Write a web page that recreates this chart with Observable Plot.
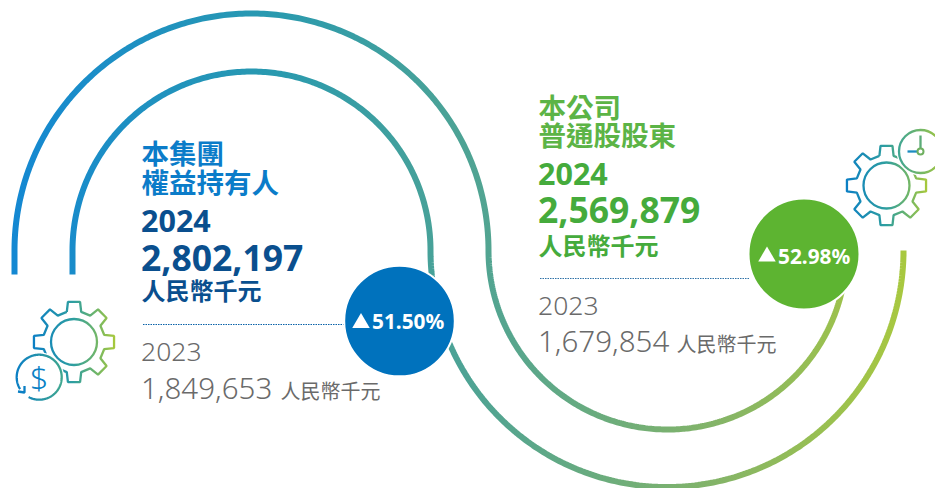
<!DOCTYPE html>
<html><head><meta charset="utf-8">
<script src="https://cdn.jsdelivr.net/npm/d3@7"></script>
<script src="https://cdn.jsdelivr.net/npm/@observablehq/plot@0.6"></script>
<style>html,body{margin:0;padding:0;background:#fff}svg{display:block}</style>
</head><body><div id="c"></div>
<script>
const groupHeading = ["本集團", "權益持有人"];
const companyHeading = ["本公司", "普通股股東"];
const unit = "人民幣千元";
const years = [2024, 2023];
const groupValues = [2802197, 1849653];
const companyValues = [2569879, 1679854];
const changes = [51.50, 52.98];

const FONT = '"Noto Sans","Noto Sans CJK TC",sans-serif';
const fmt = d3.format(",");
const pct = d3.format(".2f");

function arc(cx, cy, r, a0, a1) {
  const n = 240, out = [];
  for (let i = 0; i <= n; i++) {
    const a = (a0 + (a1 - a0) * i / n) * Math.PI / 180;
    out.push({x: cx + r * Math.cos(a), y: cy + r * Math.sin(a)});
  }
  return out;
}
function gear(cx, cy, ro, ri, teeth, rot) {
  const out = [], st = 2 * Math.PI / teeth;
  for (let i = 0; i < teeth; i++) {
    const t = rot + i * st;
    for (const [r, d] of [[ri, -0.235], [ro, -0.15], [ro, 0.15], [ri, 0.235]])
      out.push({x: cx + r * Math.cos(t + d), y: cy + r * Math.sin(t + d)});
  }
  out.push(out[0]);
  return out;
}
const outerPath = [{x: 14, y: 274}, ...arc(251, 250, 237, 180, 360), ...arc(667, 250, 179, 180, 10).slice(1)];
const innerPath = [{x: 72, y: 274}, ...arc(251, 250, 179, 180, 360), ...arc(666.5, 250, 236.5, 180, 0).slice(1), {x: 903, y: 256}];

function defs() {
  const ns = "http://www.w3.org/2000/svg";
  const d = document.createElementNS(ns, "defs");
  const add = (id, x1, x2, stops) => {
    const g = document.createElementNS(ns, "linearGradient");
    g.setAttribute("id", id);
    g.setAttribute("gradientUnits", "userSpaceOnUse");
    g.setAttribute("x1", x1); g.setAttribute("x2", x2);
    g.setAttribute("y1", 0); g.setAttribute("y2", 0);
    stops.forEach(([o, c]) => {
      const s = document.createElementNS(ns, "stop");
      s.setAttribute("offset", o); s.setAttribute("stop-color", c);
      g.appendChild(s);
    });
    d.appendChild(g);
  };
  const icon = [[0, "#0b7fc4"], [0.5, "#2f9f9f"], [1, "#a6c83c"]];
  add("gMain", 14, 903, [[0, "#1488d2"], [0.3, "#2a9aae"], [0.55, "#55a58f"], [0.8, "#86b566"], [1, "#a8c840"]]);
  add("gL", 33, 114, icon);
  add("gR", 846, 926, icon);
  add("gL2", 16, 61, [[0, "#0b7fc4"], [1, "#3ea68f"]]);
  add("gClock", 898, 942, [[0, "#3fa593"], [1, "#a6c83c"]]);
  return d;
}

const T = (s, x, y, size, weight, fill, extra = {}) =>
  Plot.text([s], {text: d => d, x: () => x, y: () => y, fontSize: size, fontWeight: weight, fill,
    textAnchor: "start", lineAnchor: "bottom", fontFamily: FONT, ...extra});
const L = (pts, stroke, w) => Plot.line(pts, {x: "x", y: "y", stroke, strokeWidth: w, strokeLinejoin: "miter", strokeLinecap: "butt"});
const C = (x, y, r, fill, stroke, w) => Plot.dot([0], {x: () => x, y: () => y, r, fill, stroke, strokeWidth: w});

const BLUE = "#0b7cc9", NAVY = "#0a4f8e", GREEN = "#5cb446", GREEN2 = "#45ab3c", GREY = "#6a6a6a";

const plot = Plot.plot({
  width: 935, height: 488,
  margin: 0,
  x: {domain: [0, 935], range: [0, 935], axis: null},
  y: {domain: [0, 488], range: [0, 488], axis: null},
  style: {background: "#fff"},
  marks: [
    defs,
    L(outerPath, "url(#gMain)", 6),
    L(innerPath, "url(#gMain)", 6),

    // left icon
    L(gear(73.5, 341.5, 40.5, 31, 8, -Math.PI / 2), "url(#gL)", 2.3),
    C(73.5, 341.5, 23, "none", "url(#gL)", 2.3),
    C(38.7, 376.7, 25, "#fff", "none", 0),
    L(arc(38.7, 376.7, 22.5, 118, -212), "url(#gL2)", 2.3),
    L([{x: 17.5, y: 391}, {x: 24, y: 392}, {x: 24, y: 385.5}], "#0b7fc4", 2.3),
    T("$", 38.7, 388, 32, 300, "url(#gL2)", {textAnchor: "middle"}),

    // right icon
    L(gear(886, 185, 40, 30.5, 8, -Math.PI / 2), "url(#gR)", 2.3),
    C(886, 185, 23, "none", "url(#gR)", 2.3),
    C(920, 151, 24, "#fff", "none", 0),
    C(920, 151, 21.5, "none", "url(#gClock)", 2.3),
    L([{x: 920, y: 135}, {x: 920, y: 148}], "#5bab78", 2.3),
    L([{x: 907, y: 151}, {x: 917, y: 151}], "#1c8cc0", 2.3),
    C(920, 151, 3, "#fff", "#6fb060", 2),

    // left block
    T(groupHeading[0], 141, 163, 27.5, 700, BLUE),
    T(groupHeading[1], 141, 192, 27.5, 700, BLUE),
    T(String(years[0]), 140.5, 231, 30.5, 700, NAVY),
    T(fmt(groupValues[0]), 140.5, 270.5, 35.5, 700, NAVY),
    T(unit, 141, 299, 24, 700, NAVY),
    Plot.ruleY([324], {x1: 143, x2: 346, stroke: "#0a62a8", strokeWidth: 1.2, strokeDasharray: "1.5 1"}),
    T(String(years[1]), 140.5, 360, 26.5, 300, GREY),
    T(fmt(groupValues[1]), 140.5, 398, 29.5, 300, GREY),
    T(unit, 280, 398, 20, 400, GREY),

    // right block
    T(companyHeading[0], 538, 117, 27.5, 700, GREEN),
    T(companyHeading[1], 538, 145, 27.5, 700, GREEN),
    T(String(years[0]), 537.5, 184, 30.5, 700, GREEN2),
    T(fmt(companyValues[0]), 537.5, 222.5, 35.5, 700, GREEN2),
    T(unit, 538, 254, 24, 700, GREEN2),
    Plot.ruleY([278], {x1: 540, x2: 750, stroke: "#2f72a8", strokeWidth: 1.2, strokeDasharray: "1.5 1"}),
    T(String(years[1]), 537.5, 314, 26.5, 300, GREY),
    T(fmt(companyValues[1]), 537.5, 351, 29.5, 300, GREY),
    T(unit, 676, 351, 20, 400, GREY),

    // badges
    C(399, 320.5, 55.3, "#0072bd", "#fff", 2),
    C(803.5, 253.5, 55.5, "#5db431", "#fff", 2),
    Plot.dot([0], {x: () => 360.5, y: () => 322.5, r: 6.5, symbol: "triangle", fill: "#fff", stroke: "none"}),
    Plot.dot([0], {x: () => 766.5, y: () => 256, r: 6.5, symbol: "triangle", fill: "#fff", stroke: "none"}),
    T(pct(changes[0]) + "%", 371.5, 328, 20.8, 700, "#fff"),
    T(pct(changes[1]) + "%", 777.5, 263, 20.8, 700, "#fff")
  ]
});
document.getElementById("c").appendChild(plot);
</script>
</body></html>
